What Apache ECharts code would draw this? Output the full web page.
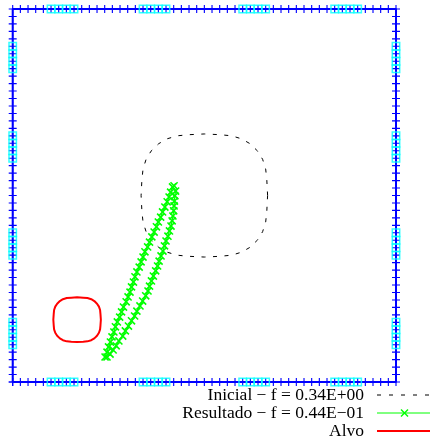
<!DOCTYPE html>
<html>
<head>
<meta charset="utf-8">
<script src="https://cdn.jsdelivr.net/npm/echarts@6/dist/echarts.min.js"></script>
<style>html,body{margin:0;padding:0;background:#fff;}#c{width:430px;height:444px;}</style>
</head>
<body>
<div id="c"></div>
<script>
// Boundary mesh node positions along each side (0..1)
const nodeT = [0,0.02,0.04,0.06,0.08,0.10,0.12,0.14,0.16,0.18,0.20,0.22,0.24,0.26,0.28,0.30,0.32,0.34,0.36,0.38,0.40,0.42,0.44,0.46,0.48,0.50,0.52,0.54,0.56,0.58,0.60,0.62,0.64,0.66,0.68,0.70,0.72,0.74,0.76,0.78,0.80,0.82,0.84,0.86,0.88,0.90,0.92,0.94,0.96,0.98,1];
// indices of highlighted (cyan) nodes on every side
const cyanIdx = [5,6,7,8,17,18,19,20,30,31,32,33,42,43,44,45];

const inicialX = [0.665,0.663,0.660,0.652,0.639,0.619,0.597,0.571,0.541,0.500,0.459,0.429,0.403,0.381,0.361,0.348,0.340,0.337,0.335,0.337,0.340,0.348,0.361,0.381,0.403,0.429,0.459,0.500,0.541,0.571,0.597,0.619,0.639,0.652,0.660,0.663,0.665];
const inicialY = [0.500,0.541,0.571,0.597,0.619,0.639,0.652,0.660,0.663,0.665,0.663,0.660,0.652,0.639,0.619,0.597,0.571,0.541,0.500,0.459,0.429,0.403,0.381,0.361,0.348,0.340,0.337,0.335,0.337,0.340,0.348,0.361,0.381,0.403,0.429,0.459,0.500];

const resultadoX = [0.241,0.246,0.250,0.255,0.259,0.264,0.268,0.273,0.279,0.284,0.289,0.296,0.301,0.306,0.310,0.315,0.319,0.324,0.330,0.335,0.340,0.345,0.352,0.357,0.363,0.369,0.375,0.380,0.386,0.391,0.397,0.403,0.408,0.412,0.417,0.421,
  0.425,0.423,0.422,0.421,0.420,0.418,0.416,0.413,0.409,0.405,0.400,0.396,0.392,0.387,0.382,0.378,0.373,0.367,0.362,0.357,0.353,0.347,0.339,0.332,0.324,0.318,0.310,0.302,0.294,0.287,0.277,0.270,0.262,0.254,0.246];
const resultadoY = [0.067,0.080,0.094,0.107,0.121,0.134,0.148,0.161,0.174,0.188,0.201,0.215,0.228,0.241,0.255,0.268,0.282,0.295,0.308,0.322,0.335,0.349,0.362,0.375,0.389,0.402,0.416,0.429,0.442,0.456,0.469,0.483,0.496,0.509,0.523,0.526,
  0.512,0.499,0.485,0.472,0.459,0.445,0.432,0.418,0.405,0.391,0.378,0.365,0.351,0.338,0.324,0.311,0.298,0.284,0.271,0.257,0.244,0.231,0.217,0.204,0.190,0.177,0.164,0.150,0.137,0.123,0.110,0.097,0.086,0.075,0.067];

const alvoX = [0.230,0.229,0.228,0.225,0.220,0.213,0.205,0.195,0.184,0.168,0.153,0.141,0.131,0.123,0.116,0.111,0.108,0.107,0.106,0.107,0.108,0.111,0.116,0.123,0.131,0.141,0.153,0.168,0.184,0.195,0.205,0.213,0.220,0.225,0.228,0.229,0.230];
const alvoY = [0.167,0.182,0.193,0.202,0.210,0.217,0.222,0.225,0.226,0.227,0.226,0.225,0.222,0.217,0.210,0.202,0.193,0.182,0.167,0.152,0.141,0.132,0.124,0.117,0.112,0.109,0.108,0.107,0.108,0.109,0.112,0.117,0.124,0.132,0.141,0.152,0.167];

const legendNames = ['Inicial − f = 0.34E+00', 'Resultado − f = 0.44E−01', 'Alvo'];

const rev = nodeT.slice().reverse();
const border = [].concat(
  nodeT.map(t => [t, 0]),
  nodeT.slice(1).map(t => [1, t]),
  rev.slice(1).map(t => [t, 1]),
  rev.slice(1).map(t => [0, t])
);
const cyanT = cyanIdx.map(i => nodeT[i]);
const cyanPts = [].concat(
  cyanT.map(t => [t, 0]), cyanT.map(t => [1, t]),
  cyanT.map(t => [t, 1]), cyanT.map(t => [0, t])
);
const zip = (a, b) => a.map((v, i) => [v, b[i]]);

const plusPath = 'path://M4.3,0H5.7V4.3H10V5.7H5.7V10H4.3V5.7H0V4.3H4.3Z';
const crossPath = 'path://M4.2,0H5.8V4.2H10V5.8H5.8V10H4.2V5.8H0V4.2H4.2Z';

// legend drawn gnuplot-style: text right aligned, sample line on the right
const legX = 364, sampleX1 = 377, sampleX2 = 431, rowY = [395, 413, 431];
const font = '17.5px "Liberation Serif"';
const legendGraphic = [];
legendNames.forEach((n, i) => {
  legendGraphic.push({type: 'text', x: legX, y: rowY[i], style: {text: n, font: font, fill: '#000', align: 'right', verticalAlign: 'middle'}, z: 100});
});
legendGraphic.push({type: 'line', shape: {x1: sampleX1, y1: rowY[0], x2: sampleX2, y2: rowY[0]}, style: {stroke: '#000', lineWidth: 1, lineDash: [4, 8]}, z: 100});
legendGraphic.push({type: 'line', shape: {x1: sampleX1, y1: rowY[1], x2: sampleX2, y2: rowY[1]}, style: {stroke: '#00ff00', lineWidth: 1}, z: 100});
legendGraphic.push({type: 'line', shape: {x1: 401, y1: rowY[1] - 3.5, x2: 408, y2: rowY[1] + 3.5}, style: {stroke: '#00ff00', lineWidth: 1.4}, z: 100});
legendGraphic.push({type: 'line', shape: {x1: 401, y1: rowY[1] + 3.5, x2: 408, y2: rowY[1] - 3.5}, style: {stroke: '#00ff00', lineWidth: 1.4}, z: 100});
legendGraphic.push({type: 'line', shape: {x1: sampleX1, y1: rowY[2], x2: sampleX2, y2: rowY[2]}, style: {stroke: '#ff0000', lineWidth: 1.8}, z: 100});

const chart = echarts.init(document.getElementById('c'), null, {renderer: 'canvas'});
chart.setOption({
  animation: false,
  backgroundColor: '#ffffff',
  grid: {left: 12.7, right: 34, top: 9, bottom: 62},
  xAxis: {type: 'value', min: 0, max: 1, show: false},
  yAxis: {type: 'value', min: 0, max: 1, show: false},
  graphic: legendGraphic,
  series: [
    {
      type: 'line', name: 'border', data: border, clip: false,
      lineStyle: {color: '#0000ff', width: 2},
      symbol: plusPath, symbolSize: 8, showSymbol: true,
      itemStyle: {color: '#0000ff'}, z: 2
    },
    {
      type: 'scatter', name: 'cyan', data: cyanPts, clip: false,
      symbol: 'rect', symbolSize: 7.4,
      itemStyle: {color: 'rgba(0,0,0,0)', borderColor: '#00ffff', borderWidth: 1.5}, z: 3
    },
    {
      type: 'line', name: legendNames[0], data: zip(inicialX, inicialY), clip: false,
      symbol: 'none', smooth: false,
      lineStyle: {color: '#000000', width: 1, type: [4, 7.5]},
      itemStyle: {color: '#000000'}, z: 4
    },
    {
      type: 'line', name: legendNames[1], data: zip(resultadoX, resultadoY), clip: false,
      symbol: crossPath, symbolRotate: 45, symbolSize: 10, showSymbol: true,
      lineStyle: {color: '#00ff00', width: 1.2},
      itemStyle: {color: '#00ff00'}, z: 5
    },
    {
      type: 'line', name: legendNames[2], data: zip(alvoX, alvoY), clip: false,
      symbol: 'none', smooth: false,
      lineStyle: {color: '#ff0000', width: 2},
      itemStyle: {color: '#ff0000'}, z: 6
    }
  ]
});
</script>
</body>
</html>
